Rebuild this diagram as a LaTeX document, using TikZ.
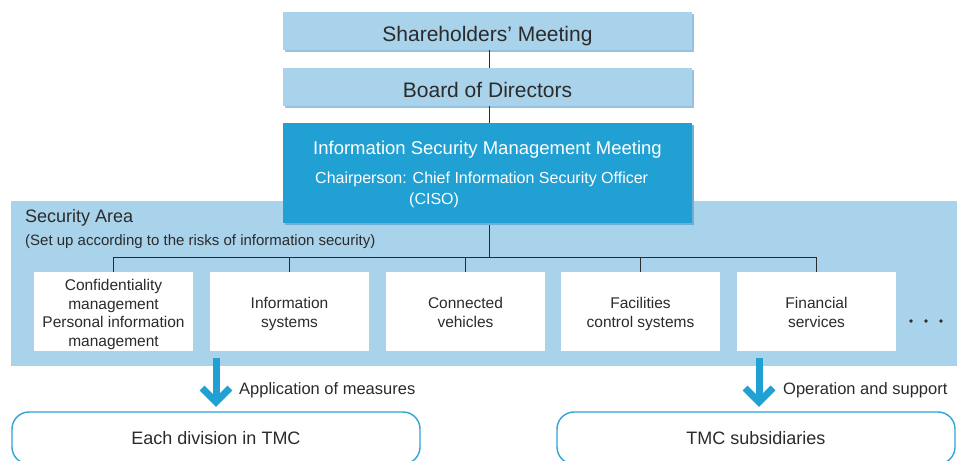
\documentclass[tikz,border=0pt]{standalone}
\usepackage{fontspec}
\setmainfont{Liberation Sans}
\definecolor{lightblue}{HTML}{A9D2EB}
\definecolor{shadowblue}{HTML}{93C3E1}
\definecolor{darkblue}{HTML}{20A0D3}
\definecolor{darkshadow}{HTML}{6FAFD6}
\definecolor{txt}{HTML}{2B2B2B}
\definecolor{boxline}{HTML}{2FA4D8}
\newcommand\topstrut{\rule{0pt}{18.5pt}}
\tikzset{
  topbox/.style={fill=lightblue, draw=none, minimum width=409, minimum height=38, inner sep=0pt, text height=21pt, text depth=0pt, text=txt, font=\fontsize{21}{24}\selectfont},
  shadowbox/.style={fill=shadowblue, draw=none, minimum width=409, minimum height=38, inner sep=0pt},
  areabox/.style={fill=white, draw=none, minimum width=159, minimum height=79, inner sep=0pt, align=center, text=txt, font=\fontsize{15.5}{19.5}\selectfont},
  conn/.style={draw=txt, line width=0.9pt},
  bigarrow/.style={draw=darkblue, line width=7pt, miter limit=10},
  bottombox/.style={draw=boxline, line width=1.4pt, fill=white, rounded corners=17, minimum height=52, inner sep=0pt, text=txt, font=\fontsize{18}{22}\selectfont},
  lbl/.style={inner sep=0pt, text=txt},
}
\begin{document}
\begin{tikzpicture}[x=1pt, y=-1pt]
\clip (0,0) rectangle (957,460);
\fill[white] (0,0) rectangle (957,460);
% security area
\fill[lightblue] (11,201) rectangle (960,366);
\node[lbl, anchor=west, font=\fontsize{18}{22}\selectfont] (satitle) at (25,218) {Security Area};
\node[lbl, anchor=west, font=\fontsize{15}{18}\selectfont] (sasub) at (25,242) {(Set up according to the risks of information security)};
% top boxes with shadows
\node[shadowbox] (shs) at (489.5,33) {};
\node[topbox] (sh) at (487.5,31) {Shareholders’ Meeting};
\node[shadowbox] (bds) at (489.5,89) {};
\node[topbox] (bd) at (487.5,87) {Board of Directors};
\node[fill=darkshadow, minimum width=409, minimum height=100, inner sep=0pt] (ismms) at (489.5,175) {};
\node[fill=darkblue, minimum width=409, minimum height=100, inner sep=0pt] (ismm) at (487.5,173) {};
\node[lbl, text=white, font=\fontsize{18.5}{22}\selectfont] (ismmt) at (487.5,150) {Information Security Management Meeting};
\node[lbl, text=white, anchor=west, font=\fontsize{16}{19}\selectfont] (chair) at (315,179) {Chairperson: Chief Information Security Officer};
\node[lbl, text=white, anchor=west, font=\fontsize{16}{19}\selectfont] (ciso) at (409,200) {(CISO)};
% connectors top
\draw[conn] (sh.south -| 489,0) -- (bd.north -| 489,0);
\draw[conn] (bd.south -| 489,0) -- (ismm.north -| 489,0);
% area boxes
\node[areabox, font=\fontsize{15.5}{18.7}\selectfont] (b1) at (113.5,311.5) {\rule{0pt}{17.5pt}Confidentiality\\management\\Personal information\\management};
\node[areabox] (b2) at (289.5,311.5) {\topstrut Information\\systems\strut};
\node[areabox] (b3) at (465.5,311.5) {\topstrut Connected\\vehicles\strut};
\node[areabox] (b4) at (640.5,311.5) {\topstrut Facilities\\control systems\strut};
\node[areabox] (b5) at (816.5,311.5) {\topstrut Financial\\services\strut};
\coordinate (hub) at (489,257);
\draw[conn] (ismms.south -| hub) -- (hub);
\draw[conn] (b1.north) -- (b1.north |- hub) -- (b5.north |- hub) -- (b5.north);
\draw[conn] (b2.north) -- (b2.north |- hub);
\draw[conn] (b3.north) -- (b3.north |- hub);
\draw[conn] (b4.north) -- (b4.north |- hub);
% dots
\fill[txt] (911,321) circle (1.8) (926,321) circle (1.8) (941,321) circle (1.8);
% bottom boxes
\node[bottombox, minimum width=408] (div) at (216,438) {Each division in TMC};
\node[bottombox, minimum width=398] (sub) at (756,438) {TMC subsidiaries};
% arrows
\draw[bigarrow] (216,358) -- (216,402);
\draw[bigarrow] (202,388) -- (216,402) -- (230,388);
\draw[bigarrow] (759,358) -- (759,402);
\draw[bigarrow] (745,388) -- (759,402) -- (773,388);
\node[lbl, anchor=west, font=\fontsize{16.5}{20}\selectfont] (am) at (239,390) {Application of measures};
\node[lbl, anchor=west, font=\fontsize{16.5}{20}\selectfont] (os) at (783,390) {Operation and support};
\end{tikzpicture}
\end{document}
